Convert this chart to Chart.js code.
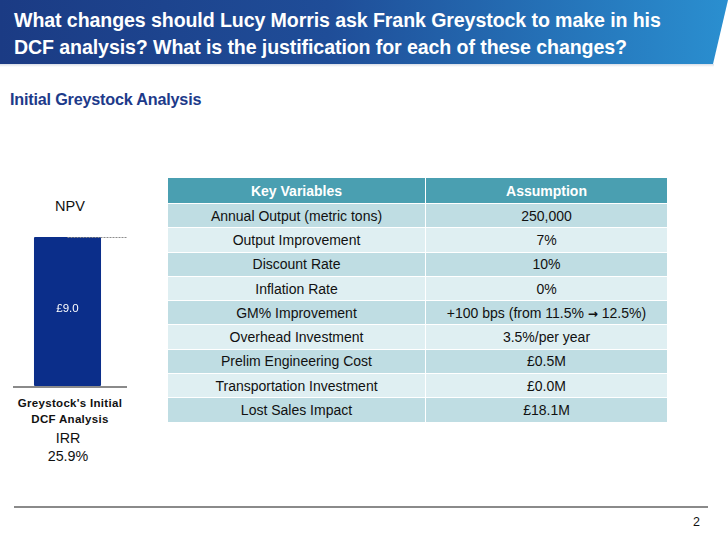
<!DOCTYPE html>
<html>
<head>
<meta charset="utf-8">
<script src="https://cdn.jsdelivr.net/npm/chart.js@4/dist/chart.umd.min.js"></script>
<style>
  html, body { margin: 0; padding: 0; background: #fff; }
  body { width: 728px; height: 546px; position: relative; overflow: hidden; font-family: "Liberation Sans", Arial, sans-serif; }
  .banner {
    position: absolute; left: 0; top: 0; width: 728px; height: 64px;
    background: linear-gradient(90deg, #1b3b84 0%, #1f4d98 45%, #2a8fd0 100%);
    clip-path: polygon(0 0, 728px 0, 713px 64px, 0 64px);
  }
  .shadow { position: absolute; left: 0; top: 64px; width: 714px; height: 3px; background: linear-gradient(#d8dde6, #fff); }
  .title { position: absolute; left: 14px; top: 7px; color: #fff; font-weight: bold; font-size: 19.6px; line-height: 27px; letter-spacing: -0.1px; }
  .subtitle { position: absolute; left: 10px; top: 90px; color: #1d3a8a; font-weight: bold; font-size: 16.2px; letter-spacing: -0.2px; }
  .lbl { position: absolute; text-align: center; color: #111; }
  #npvChart { position: absolute; left: 0; top: 225px; }
  table { position: absolute; left: 167px; top: 177px; width: 501px; border-collapse: collapse; font-size: 14px; color: #111; }
  th, td { border: 1px solid #fff; text-align: center; padding: 0; }
  th { background: #4a9fb1; color: #fff; height: 25px; }
  td { height: 23.3px; }
  tr.odd td { background: #bfdde3; }
  tr.even td { background: #dfeff2; }
  .arrow { font-family: "DejaVu Sans", sans-serif; font-weight: bold; font-size: 12px; }
  .footline { position: absolute; left: 14px; top: 506px; width: 694px; height: 2px; background: #8a8a8a; }
  .page { position: absolute; left: 693px; top: 515px; font-size: 12.5px; color: #111; }
</style>
</head>
<body>
<div class="banner"></div>
<div class="shadow"></div>
<div class="title">What changes should Lucy Morris ask Frank Greystock to make in his<br>DCF analysis? What is the justification for each of these changes?</div>
<div class="subtitle">Initial Greystock Analysis</div>

<div class="lbl" style="left:30px; top:198px; width:80px; font-size:14.5px;">NPV</div>
<canvas id="npvChart" width="140" height="165"></canvas>
<div class="lbl" id="catLabel" style="left:0px; top:396px; width:140px; font-size:11.5px; font-weight:bold; line-height:15.5px; letter-spacing:0.3px;"></div>
<div class="lbl" id="irrLabel" style="left:20px; top:429px; width:96px; font-size:14.3px; line-height:18px;"></div>

<table id="assumptions"></table>

<div class="footline"></div>
<div class="page">2</div>

<script>
const categories = ["Greystock's Initial", "DCF Analysis"];
const npvValues = [9.0];
const irrValues = ['25.9%'];

const keyVariables = [
    'Annual Output (metric tons)',
    'Output Improvement',
    'Discount Rate',
    'Inflation Rate',
    'GM% Improvement',
    'Overhead Investment',
    'Prelim Engineering Cost',
    'Transportation Investment',
    'Lost Sales Impact'
];
const assumptions = [
    '250,000',
    '7%',
    '10%',
    '0%',
    '+100 bps (from 11.5% \u2192 12.5%)',
    '3.5%/per year',
    '\u00a30.5M',
    '\u00a30.0M',
    '\u00a318.1M'
];

document.getElementById('catLabel').innerHTML = categories.join('<br>');
document.getElementById('irrLabel').innerHTML = 'IRR<br>' + irrValues[0];

const table = document.getElementById('assumptions');
table.innerHTML = '<tr><th style="width:257px">Key Variables</th><th>Assumption</th></tr>' +
    keyVariables.map((v, i) =>
        `<tr class="${i % 2 === 0 ? 'odd' : 'even'}"><td>${v}</td><td>${assumptions[i].replace('\u2192', '<span class="arrow">\u2192</span>')}</td></tr>`
    ).join('');

// guide lines + value label
const npvDecorations = {
    id: 'npvDecorations',
    afterDatasetsDraw(chart) {
        const c = chart.ctx;
        const y = chart.scales.y;
        const bar = chart.getDatasetMeta(0).data[0];
        const area = chart.chartArea;

        c.save();
        // top connector
        c.strokeStyle = '#8c8c8c';
        c.lineWidth = 1;
        c.setLineDash([2, 1]);
        c.beginPath();
        c.moveTo(bar.x, Math.round(y.getPixelForValue(npvValues[0])) + 0.5);
        c.lineTo(area.right + 5, Math.round(y.getPixelForValue(npvValues[0])) + 0.5);
        c.stroke();
        // baseline
        c.setLineDash([]);
        c.lineWidth = 2;
        c.strokeStyle = '#8a8a8a';
        c.beginPath();
        c.moveTo(area.left, y.getPixelForValue(0) + 1);
        c.lineTo(area.right + 5, y.getPixelForValue(0) + 1);
        c.stroke();
        // value
        c.fillStyle = '#fff';
        c.font = '11.5px "Liberation Sans", Arial, sans-serif';
        c.textAlign = 'center';
        c.textBaseline = 'middle';
        c.fillText('\u00a3' + npvValues[0].toFixed(1), bar.x, (bar.y + bar.base) / 2 - 3);
        c.restore();
    }
};

new Chart(document.getElementById('npvChart').getContext('2d'), {
    type: 'bar',
    data: {
        labels: [categories.join(' ')],
        datasets: [{
            data: npvValues,
            backgroundColor: '#0b2e8a',
            borderRadius: 1,
            borderSkipped: false,
            barPercentage: 0.615,
            categoryPercentage: 1
        }]
    },
    options: {
        responsive: false,
        animation: false,
        layout: { padding: { left: 13, right: 18, top: 12, bottom: 4 } },
        plugins: { legend: { display: false }, tooltip: { enabled: false } },
        scales: {
            x: { display: false },
            y: { display: false, min: 0, max: 9.0 }
        }
    },
    plugins: [npvDecorations]
});
</script>
</body>
</html>
